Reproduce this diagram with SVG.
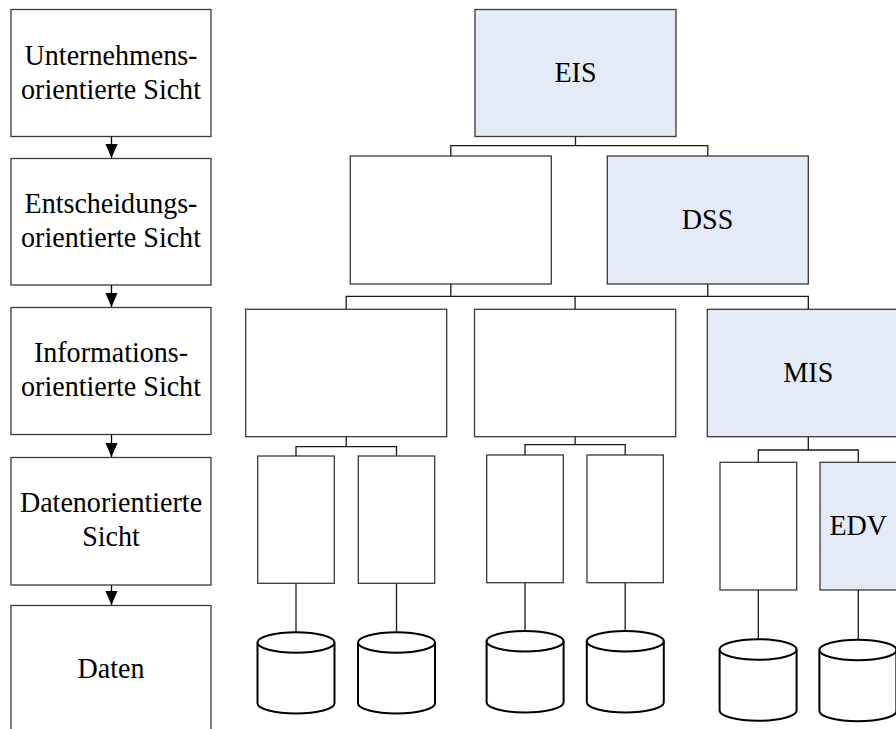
<svg xmlns="http://www.w3.org/2000/svg" width="896" height="729" viewBox="0 0 896 729">
  <defs>
    <marker id="arrowDown" markerUnits="userSpaceOnUse" markerWidth="15" markerHeight="13" refX="14.5" refY="6.25" orient="auto">
      <path d="M0,0 L14.5,6.25 L0,12.5 z" fill="#000"/>
    </marker>
    <style>
      .box { fill: #ffffff; stroke: #3a3a3a; stroke-width: 1.3; }
      .hl { fill: #e5ebf6; stroke: #3a3a3a; stroke-width: 1.3; }
      .lbl { font-family: "Liberation Serif", "Times New Roman", serif; font-size: 30px; fill: #000; text-anchor: middle; }
      .conn { fill: none; stroke: #1a1a1a; stroke-width: 1.3; }
      .flow { fill: none; stroke: #000; stroke-width: 1.3; marker-end: url(#arrowDown); }
      .db { fill: #ffffff; stroke: #000; stroke-width: 2; }
    </style>
  </defs>
  <rect width="896" height="729" fill="#ffffff"/>

  <!-- Layer column (left); labels are set slightly condensed -->
  <g id="view-company">
    <rect class="box" x="11" y="9.5" width="200" height="127"/>
    <text class="lbl" x="0" y="65.5" transform="translate(111 0) scale(0.935 1)">Unternehmens-</text>
    <text class="lbl" x="0" y="99.5" transform="translate(111 0) scale(0.935 1)">orientierte Sicht</text>
  </g>
  <g id="view-decision">
    <rect class="box" x="11" y="158.5" width="200" height="126.5"/>
    <text class="lbl" x="0" y="213.5" transform="translate(111 0) scale(0.935 1)">Entscheidungs-</text>
    <text class="lbl" x="0" y="247.5" transform="translate(111 0) scale(0.935 1)">orientierte Sicht</text>
  </g>
  <g id="view-information">
    <rect class="box" x="11" y="307.5" width="200" height="127"/>
    <text class="lbl" x="0" y="362" transform="translate(111 0) scale(0.935 1)">Informations-</text>
    <text class="lbl" x="0" y="396.5" transform="translate(111 0) scale(0.935 1)">orientierte Sicht</text>
  </g>
  <g id="view-data">
    <rect class="box" x="11" y="457.5" width="200" height="127.5"/>
    <text class="lbl" x="0" y="512.5" transform="translate(111 0) scale(0.935 1)">Datenorientierte</text>
    <text class="lbl" x="0" y="546.5" transform="translate(111 0) scale(0.935 1)">Sicht</text>
  </g>
  <g id="view-raw">
    <rect class="box" x="11" y="605.5" width="200" height="135"/>
    <text class="lbl" x="0" y="678" transform="translate(111 0) scale(0.935 1)">Daten</text>
  </g>

  <!-- Level 1 -->
  <g id="eis">
    <rect class="hl" x="475" y="9.5" width="201" height="127"/>
    <text class="lbl" x="0" y="82.3" transform="translate(575.5 0) scale(0.935 1)">EIS</text>
  </g>

  <!-- Level 2 -->
  <g id="l2-left">
    <rect class="box" x="350.3" y="156" width="201" height="128"/>
  </g>
  <g id="dss">
    <rect class="hl" x="607.3" y="156" width="201" height="128"/>
    <text class="lbl" x="0" y="229" transform="translate(707.5 0) scale(0.935 1)">DSS</text>
  </g>

  <!-- Level 3 -->
  <g id="l3-left">
    <rect class="box" x="245.7" y="309.3" width="201" height="127.4"/>
  </g>
  <g id="l3-mid">
    <rect class="box" x="474.5" y="309.3" width="201.2" height="127.4"/>
  </g>
  <g id="mis">
    <rect class="hl" x="707.3" y="309.3" width="202" height="127.4"/>
    <text class="lbl" x="0" y="382" transform="translate(808.3 0) scale(0.935 1)">MIS</text>
  </g>

  <!-- Level 4 -->
  <g id="l4-a">
    <rect class="box" x="257.7" y="456" width="76.6" height="127.3"/>
  </g>
  <g id="l4-b">
    <rect class="box" x="358.3" y="456" width="76.4" height="127.3"/>
  </g>
  <g id="l4-c">
    <rect class="box" x="486.7" y="455" width="76.6" height="127.7"/>
  </g>
  <g id="l4-d">
    <rect class="box" x="587" y="455" width="76.3" height="127.7"/>
  </g>
  <g id="l4-e">
    <rect class="box" x="720" y="462.3" width="76.7" height="127.7"/>
  </g>
  <g id="edv">
    <rect class="hl" x="820" y="462.3" width="77" height="127.7"/>
    <text class="lbl" x="0" y="535.3" transform="translate(858.3 0) scale(0.935 1)">EDV</text>
  </g>

  <!-- Data stores -->
  <g id="db-a">
    <path class="db" d="M257.5,642.5 V703.3 A38.5,10.3 0 0 0 334.5,703.3 V642.5"/>
    <ellipse class="db" cx="296" cy="642.5" rx="38.5" ry="10.3"/>
  </g>
  <g id="db-b">
    <path class="db" d="M358,642.5 V703.3 A38.5,10.3 0 0 0 435,703.3 V642.5"/>
    <ellipse class="db" cx="396.5" cy="642.5" rx="38.5" ry="10.3"/>
  </g>
  <g id="db-c">
    <path class="db" d="M486.6,641.3 V702.3 A38.5,10.3 0 0 0 563.6,702.3 V641.3"/>
    <ellipse class="db" cx="525.1" cy="641.3" rx="38.5" ry="10.3"/>
  </g>
  <g id="db-d">
    <path class="db" d="M586.8,641.3 V702.3 A38.5,10.3 0 0 0 663.8,702.3 V641.3"/>
    <ellipse class="db" cx="625.3" cy="641.3" rx="38.5" ry="10.3"/>
  </g>
  <g id="db-e">
    <path class="db" d="M719.6,649.5 V710.5 A38.5,10.3 0 0 0 796.6,710.5 V649.5"/>
    <ellipse class="db" cx="758.1" cy="649.5" rx="38.5" ry="10.3"/>
  </g>
  <g id="db-f">
    <path class="db" d="M819.4,650 V711 A38.5,10.3 0 0 0 896.4,711 V650"/>
    <ellipse class="db" cx="857.9" cy="650" rx="38.5" ry="10.3"/>
  </g>

  <!-- Connectors -->
  <g id="connectors">
    <!-- layer flow arrows -->
    <path class="flow" d="M111.5,136.5 V158"/>
    <path class="flow" d="M111.5,285 V307"/>
    <path class="flow" d="M111.5,434.5 V457"/>
    <path class="flow" d="M111.5,585 V605"/>

    <!-- EIS to level 2 -->
    <path class="conn" d="M575.5,136.5 V145.7"/>
    <path class="conn" d="M450.8,156 V145.7 H707.8 V156"/>

    <!-- level 2 to level 3 -->
    <path class="conn" d="M450.8,284 V296.3"/>
    <path class="conn" d="M707.8,284 V296.3"/>
    <path class="conn" d="M346.2,309.3 V296.3 H808.3 V309.3"/>
    <path class="conn" d="M575.1,296.3 V309.3"/>

    <!-- level 3 to level 4 -->
    <path class="conn" d="M346.2,436.7 V446.7"/>
    <path class="conn" d="M296,456 V446.7 H396.5 V456"/>
    <path class="conn" d="M575.1,436.7 V444.7"/>
    <path class="conn" d="M525,455 V444.7 H625.2 V455"/>
    <path class="conn" d="M808.3,436.7 V450"/>
    <path class="conn" d="M758.3,462.3 V450 H858.3 V462.3"/>

    <!-- level 4 to data stores -->
    <path class="conn" d="M296,583.3 V632.2"/>
    <path class="conn" d="M396.5,583.3 V632.2"/>
    <path class="conn" d="M525,582.7 V631"/>
    <path class="conn" d="M625.2,582.7 V631"/>
    <path class="conn" d="M758.3,590 V639.2"/>
    <path class="conn" d="M858.3,590 V639.7"/>
  </g>
</svg>
